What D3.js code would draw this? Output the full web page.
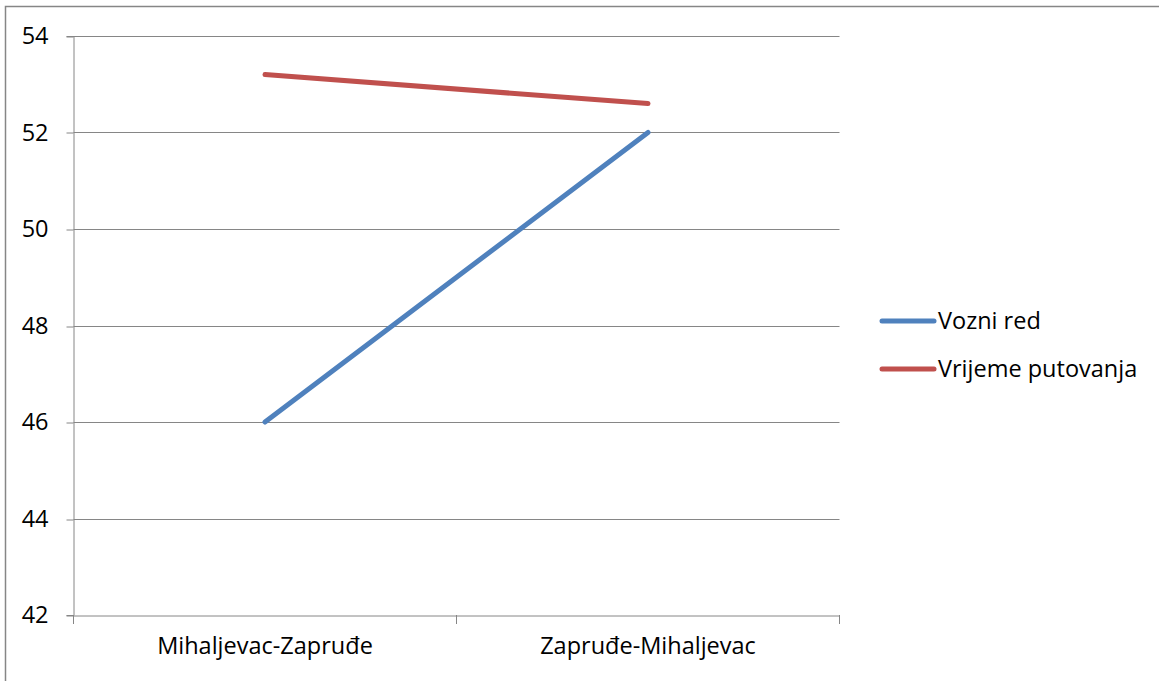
<!DOCTYPE html>
<html>
<head>
<meta charset="utf-8">
<script src="https://cdn.jsdelivr.net/npm/d3@7"></script>
<style>
  html, body { margin: 0; padding: 0; background: #fff; }
  svg { display: block; font-family: "Open Sans", "Noto Sans", sans-serif; }
</style>
</head>
<body>
<svg id="chart" width="1159" height="681"></svg>
<script>
const categories = ["Mihaljevac-Zapruđe", "Zapruđe-Mihaljevac"];
const voznoRed = [46, 52];
const vrijemePutovanja = [53.2, 52.6];
const yTicks = [42, 44, 46, 48, 50, 52, 54];
const seriesNames = ["Vozni red", "Vrijeme putovanja"];
const seriesColors = ["#4F81BD", "#C0504D"];

const FONT = 23.5;
const LINE_W = 5;
const svg = d3.select("#chart");
const W = 1159, H = 681;
const plot = { left: 73.5, right: 839.5, top: 36, bottom: 615 };

// outer chart frame
svg.append("rect")
  .attr("x", 5.5).attr("y", 6.5)
  .attr("width", W + 10).attr("height", H + 10)
  .attr("fill", "none").attr("stroke", "#868686").attr("stroke-width", 1.5);

const x = d3.scaleBand().domain(categories).range([plot.left, plot.right]);
const y = d3.scaleLinear().domain([42, 54]).range([plot.bottom, plot.top]);

// horizontal gridlines
svg.append("g").selectAll("line").data(yTicks.slice(1)).join("line")
  .attr("x1", plot.left).attr("x2", plot.right)
  .attr("y1", d => Math.round(y(d)) + 0.5).attr("y2", d => Math.round(y(d)) + 0.5)
  .attr("stroke", "#868686").attr("stroke-width", 1);

// y axis
const yAxis = svg.append("g")
  .attr("transform", `translate(${plot.left},0)`)
  .call(d3.axisLeft(y).tickValues(yTicks).tickSize(7).tickPadding(18).tickFormat(d3.format("d")));
yAxis.select(".domain").attr("stroke", "#868686");
yAxis.selectAll(".tick line").attr("stroke", "#868686")
  .attr("transform", function(d){ return `translate(0,${Math.round(y(d)) + 0.5 - y(d)})`; });
yAxis.selectAll(".tick text").attr("font-size", FONT).attr("fill", "#000")
  .attr("font-family", "\"Open Sans\", sans-serif");

// x axis
const xAxis = svg.append("g")
  .attr("transform", `translate(0,${plot.bottom + 0.5})`)
  .call(d3.axisBottom(x).tickSize(0).tickPadding(22));
xAxis.select(".domain").attr("stroke", "#868686");
xAxis.selectAll(".tick text").attr("font-size", FONT).attr("fill", "#000")
  .attr("font-family", "\"Open Sans\", sans-serif");
// category boundary ticks
const bounds = [plot.left, plot.left + x.step(), plot.right];
svg.append("g").selectAll("line").data(bounds).join("line")
  .attr("x1", d => d).attr("x2", d => d)
  .attr("y1", plot.bottom).attr("y2", plot.bottom + 9)
  .attr("stroke", "#868686");

// series lines
const cx = c => x(c) + x.bandwidth() / 2;
const line = d3.line().x(d => cx(d.c)).y(d => y(d.v));
[voznoRed, vrijemePutovanja].forEach((vals, i) => {
  svg.append("path")
    .datum(categories.map((c, j) => ({ c, v: vals[j] })))
    .attr("d", line)
    .attr("fill", "none")
    .attr("stroke", seriesColors[i])
    .attr("stroke-width", LINE_W)
    .attr("stroke-linecap", "round");
});

// legend
const legend = svg.append("g");
seriesNames.forEach((name, i) => {
  const ly = 321 + i * 48;
  legend.append("line")
    .attr("x1", 882).attr("x2", 934).attr("y1", ly).attr("y2", ly)
    .attr("stroke", seriesColors[i]).attr("stroke-width", LINE_W).attr("stroke-linecap", "round");
  legend.append("text")
    .attr("x", 938).attr("y", ly).attr("dy", "0.35em")
    .attr("font-size", FONT).attr("fill", "#000")
    .text(name);
});
</script>
</body>
</html>
